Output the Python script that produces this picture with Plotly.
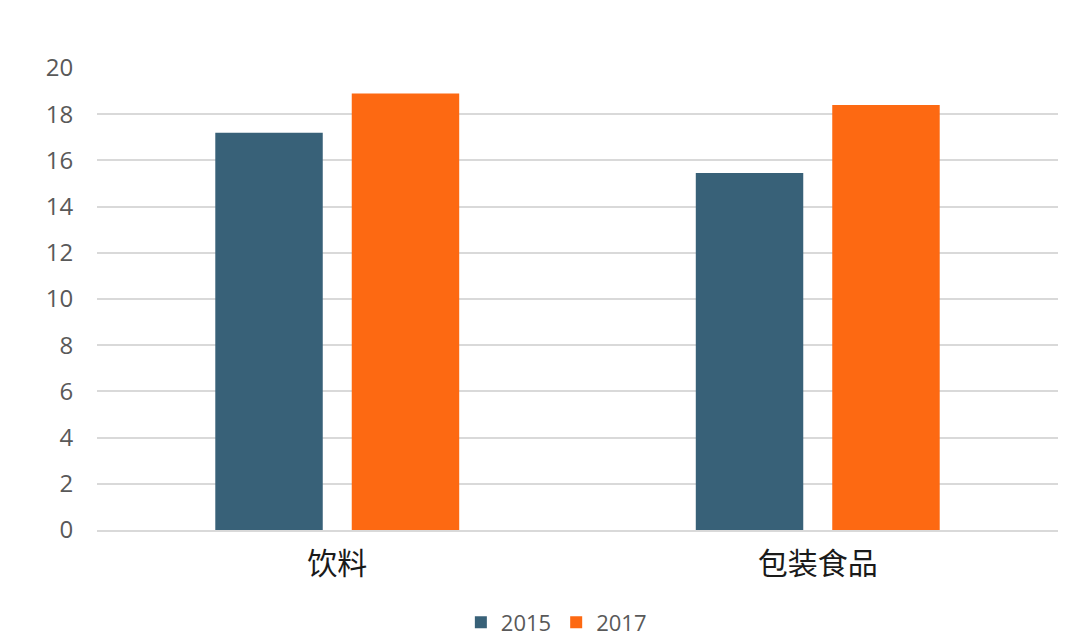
import plotly.graph_objects as go

categories = ["饮料", "包装食品"]
series_names = ["2015", "2017"]
values_2015 = [17.2, 15.45]
values_2017 = [18.9, 18.4]
colors = ["#386178", "#fd6912"]
y_ticks = [0, 2, 4, 6, 8, 10, 12, 14, 16, 18, 20]

fig = go.Figure()
for name, vals, c in zip(series_names, [values_2015, values_2017], colors):
    fig.add_trace(go.Bar(x=categories, y=vals, name=name, marker=dict(color=c, line=dict(width=0))))

fig.update_layout(
    width=1080, height=644,
    margin=dict(l=97, r=22, t=68, b=114, autoexpand=False),
    paper_bgcolor="white", plot_bgcolor="white",
    barmode="group", bargap=0.432, bargroupgap=0.2125,
    font=dict(family="Open Sans, Noto Sans CJK SC", color="#595959"),
    showlegend=True,
    legend=dict(orientation="h", x=0.478, xanchor="center", y=-0.2, yanchor="middle",
                font=dict(size=22, color="#595959"), itemwidth=30, traceorder="normal"),
)
fig.update_yaxes(range=[0, 20], tickvals=y_ticks, showgrid=True, gridcolor="#d9d9d9", gridwidth=2,
                 zeroline=False, showline=False, ticks="outside", ticklen=18, tickcolor="rgba(0,0,0,0)",
                 tickfont=dict(size=24, color="#595959"), automargin=False)
fig.update_xaxes(showline=True, linecolor="#d9d9d9", linewidth=2, ticks="outside", ticklen=6,
                 tickcolor="rgba(0,0,0,0)", automargin=False,
                 tickfont=dict(size=30, color="#1a1a1a", family="Noto Sans CJK SC"))

fig.write_html("out.html", config={"displayModeBar": False},
               post_script="document.body.style.margin='0';")
